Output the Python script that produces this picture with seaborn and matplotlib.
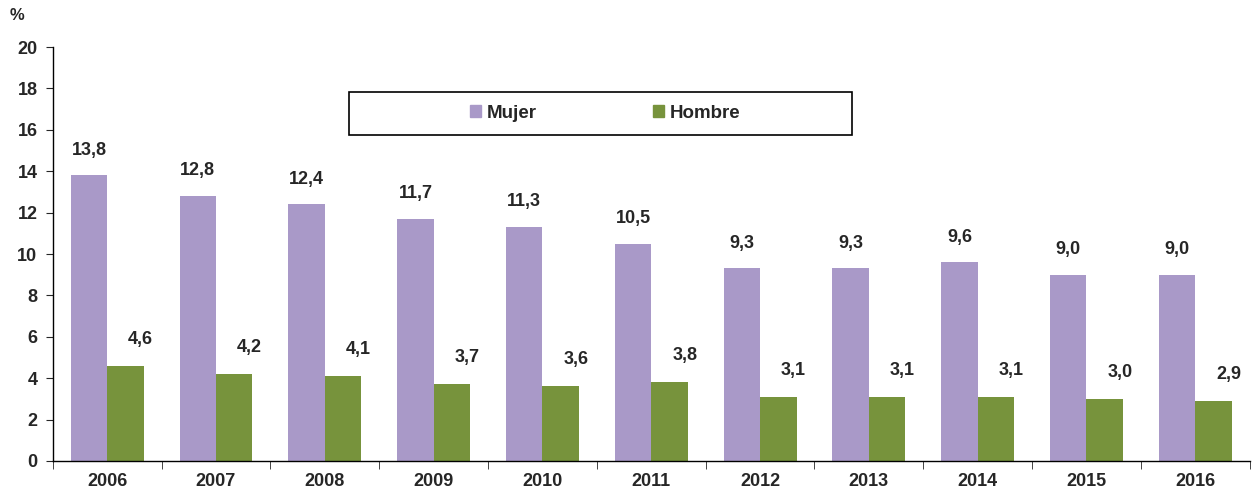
import pandas as pd
import numpy as np
import matplotlib.pyplot as plt
import seaborn as sns

years = ['2006', '2007', '2008', '2009', '2010', '2011', '2012', '2013', '2014', '2015', '2016']
mujer = [13.8, 12.8, 12.4, 11.7, 11.3, 10.5, 9.3, 9.3, 9.6, 9.0, 9.0]
hombre = [4.6, 4.2, 4.1, 3.7, 3.6, 3.8, 3.1, 3.1, 3.1, 3.0, 2.9]
series = ['Mujer', 'Hombre']
colors = ['#a999c8', '#77933c']

df = pd.DataFrame({'year': years * 2,
                   'sexo': ['Mujer'] * len(years) + ['Hombre'] * len(years),
                   'valor': mujer + hombre})

sns.set_style('white')
plt.rcParams['font.family'] = ['Liberation Sans', 'DejaVu Sans']
plt.rcParams['font.weight'] = 'bold'
fs = 13

fig = plt.figure(figsize=(12.56, 4.98), dpi=100)
ax = fig.add_axes([0.042, 0.0743, 0.953, 0.8313])

sns.barplot(data=df, x='year', y='valor', hue='sexo', hue_order=series,
            palette=colors, width=0.67, saturation=1, linewidth=0,
            ax=ax, legend=False)

# Value labels
for container, vals, dx, dy in zip(ax.containers, [mujer, hombre], [0, 11], [12, 13]):
    for bar, v in zip(container, vals):
        ax.annotate(f'{v:.1f}'.replace('.', ','),
                    (bar.get_x() + bar.get_width() / 2, bar.get_height()),
                    xytext=(dx, dy), textcoords='offset points',
                    ha='center', va='bottom', fontsize=fs, fontweight='bold')

ax.set_ylim(0, 20)
ax.set_yticks(range(0, 21, 2))
ax.set_xlim(-0.5, len(years) - 0.5)
ax.set_xlabel('')
ax.set_ylabel('')
ax.tick_params(axis='y', labelsize=fs, length=5, direction='out', left=True, pad=6)
ax.tick_params(axis='x', labelsize=fs, length=0, pad=9)
# category separators on x axis
ax.set_xticks(np.arange(-0.5, len(years), 1), minor=True)
ax.tick_params(axis='x', which='minor', length=6, direction='out', bottom=True)

for s in ['top', 'right']:
    ax.spines[s].set_visible(False)
for s in ['left', 'bottom']:
    ax.spines[s].set_color('black')
    ax.spines[s].set_linewidth(1)

fig.text(0.008, 0.968, '%', fontsize=fs - 1, fontweight='bold', ha='left', va='center')

# Legend in a box
box = plt.Rectangle((0.278, 0.729), 0.4, 0.086, transform=fig.transFigure,
                    facecolor='white', edgecolor='black', linewidth=1.2)
fig.patches.append(box)
handles = [plt.Rectangle((0, 0), 1, 1, color=c) for c in colors]
fig.legend(handles, series, loc='center', bbox_to_anchor=(0.482, 0.772),
           ncol=2, frameon=False, fontsize=fs + 0.5, handlelength=0.6,
           handleheight=0.6, handletextpad=0.3, columnspacing=6.2)

fig.savefig('out.png', dpi=100)
